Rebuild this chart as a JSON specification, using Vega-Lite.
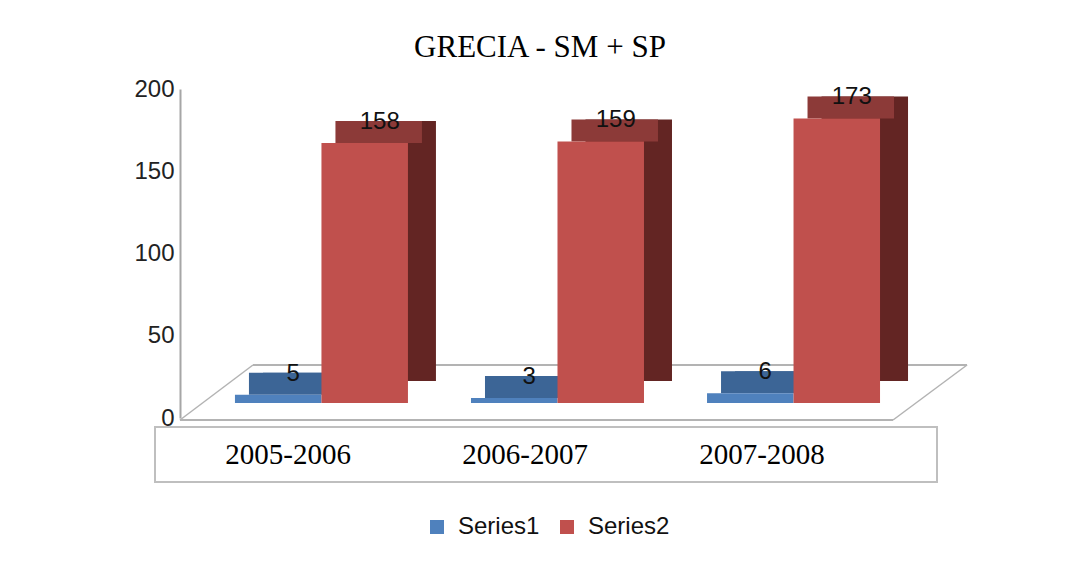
{
  "$schema": "https://vega.github.io/schema/vega-lite/v6.json",
  "padding": {"left": 133, "top": 32, "right": 0, "bottom": 0},
  "background": "white",
  "bounds": "flush",
  "title": {"text": "GRECIA - SM + SP", "font": "Liberation Serif", "fontSize": 31, "fontWeight": "normal", "color": "#000000", "anchor": "middle", "offset": 13, "dx": -11},
  "datasets": {
    "bars": [
      {"period": "2005-2006", "series": "Series1", "value": 5},
      {"period": "2005-2006", "series": "Series2", "value": 158},
      {"period": "2006-2007", "series": "Series1", "value": 3},
      {"period": "2006-2007", "series": "Series2", "value": 159},
      {"period": "2007-2008", "series": "Series1", "value": 6},
      {"period": "2007-2008", "series": "Series2", "value": 173}
    ]
  },
  "spacing": 9,
  "vconcat": [
    {
      "width": 782,
      "height": 329,
      "view": {"stroke": null},
      "data": {"name": "bars"},
      "resolve": {"scale": {"xOffset": "independent", "color": "independent"}},
      "layer": [
        {
          "data": {"values": [{}]},
          "mark": {"type": "rule", "color": "#B3B3B3", "strokeWidth": 2, "xOffset": -55, "x2Offset": 99.5, "yOffset": 2},
          "encoding": {
            "x": {"datum": "2005-2006", "bandPosition": 0, "axis": null, "scale": {"paddingInner": 0.267, "paddingOuter": 0.29, "align": 0.584}},
            "x2": {"datum": "2007-2008"},
            "y": {"datum": 0, "type": "quantitative", "scale": {"domain": [0, 200]}, "axis": {"title": null, "values": [0, 50, 100, 150, 200], "grid": false, "ticks": false, "offset": -25, "labelPadding": 6, "labelFont": "Liberation Sans", "labelFontSize": 24, "labelColor": "#222222", "domainColor": "#A6A6A6", "domainWidth": 2}}
          }
        },
        {
          "data": {"values": [{}]},
          "mark": {"type": "rule", "color": "#B3B3B3", "strokeWidth": 2, "xOffset": 18, "x2Offset": 173.5, "yOffset": -53},
          "encoding": {
            "x": {"datum": "2005-2006", "bandPosition": 0, "axis": null},
            "x2": {"datum": "2007-2008"},
            "y": {"datum": 0, "type": "quantitative"}
          }
        },
        {
          "data": {"values": [{}]},
          "mark": {"type": "rule", "color": "#B3B3B3", "strokeWidth": 1.5, "xOffset": -55, "x2Offset": 18, "yOffset": 2, "y2Offset": -53},
          "encoding": {
            "x": {"datum": "2005-2006", "bandPosition": 0, "axis": null},
            "x2": {"datum": "2005-2006", "bandPosition": 0},
            "y": {"datum": 0, "type": "quantitative"},
            "y2": {"datum": 0}
          }
        },
        {
          "data": {"values": [{}]},
          "mark": {"type": "rule", "color": "#B3B3B3", "strokeWidth": 1.5, "xOffset": 99.5, "x2Offset": 173.5, "yOffset": 2, "y2Offset": -53},
          "encoding": {
            "x": {"datum": "2007-2008", "axis": null},
            "x2": {"datum": "2007-2008"},
            "y": {"datum": 0, "type": "quantitative"},
            "y2": {"datum": 0}
          }
        },
        {
          "mark": {"type": "bar", "yOffset": -37, "y2Offset": -37},
          "encoding": {
            "x": {"field": "period", "type": "nominal", "axis": null},
            "xOffset": {"field": "series", "type": "nominal", "scale": {"range": [28, 201]}},
            "y": {"field": "value", "type": "quantitative"},
            "y2": {"datum": 0},
            "color": {"field": "series", "type": "nominal", "legend": null, "scale": {"domain": ["Series1", "Series2"], "range": ["#3C6596", "#632523"]}}
          }
        },
        {
          "mark": {"type": "bar", "yOffset": -37, "y2Offset": -15},
          "encoding": {
            "x": {"field": "period", "type": "nominal", "axis": null},
            "xOffset": {"field": "series", "type": "nominal", "scale": {"range": [14, 187]}},
            "y": {"field": "value", "type": "quantitative"},
            "y2": {"field": "value"},
            "color": {"field": "series", "type": "nominal", "legend": null, "scale": {"domain": ["Series1", "Series2"], "range": ["#3C6596", "#8C3A38"]}}
          }
        },
        {
          "mark": {"type": "bar", "yOffset": -15, "y2Offset": -15},
          "encoding": {
            "x": {"field": "period", "type": "nominal", "axis": null},
            "xOffset": {"field": "series", "type": "nominal", "scale": {"range": [0, 173]}},
            "y": {"field": "value", "type": "quantitative"},
            "y2": {"datum": 0},
            "color": {"field": "series", "type": "nominal", "scale": {"domain": ["Series1", "Series2"], "range": ["#4F81BD", "#C0504D"]},
              "legend": {"title": null, "orient": "none", "direction": "horizontal", "legendX": 270, "legendY": 426, "symbolType": "square", "symbolSize": 196, "symbolStrokeWidth": 0, "labelFont": "Liberation Sans", "labelFontSize": 24, "labelColor": "#111111", "labelOffset": 9, "columnPadding": 15}}
          }
        },
        {
          "mark": {"type": "text", "baseline": "middle", "align": "center", "yOffset": -36, "font": "Liberation Sans", "fontSize": 24, "color": "#111111"},
          "encoding": {
            "x": {"field": "period", "type": "nominal", "axis": null},
            "xOffset": {"field": "series", "type": "nominal", "scale": {"range": [15, 188]}},
            "y": {"field": "value", "type": "quantitative"},
            "text": {"field": "value", "type": "quantitative"}
          }
        }
      ]
    },
    {
      "width": 782,
      "height": 55,
      "view": {"stroke": "#BFBFBF", "strokeWidth": 2},
      "data": {"name": "bars"},
      "transform": [{"filter": "datum.series === 'Series1'"}],
      "mark": {"type": "text", "font": "Liberation Serif", "fontSize": 29, "baseline": "middle", "align": "center", "color": "#000000"},
      "encoding": {
        "x": {"field": "period", "type": "nominal", "axis": null, "scale": {"type": "point", "padding": 0.65, "align": 0.432}},
        "text": {"field": "period", "type": "nominal"}
      }
    }
  ],
  "config": {"view": {"stroke": null}}
}
